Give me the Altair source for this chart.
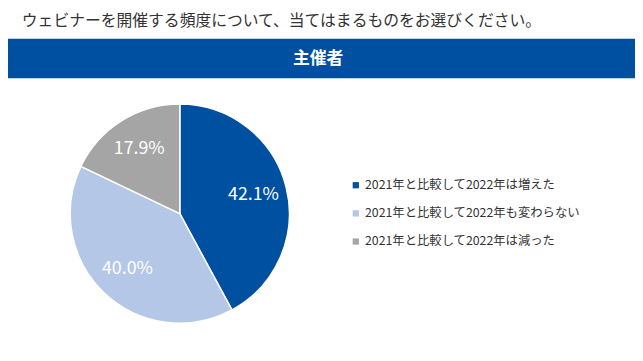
import altair as alt
import pandas as pd

categories = ["2021年と比較して2022年は増えた", "2021年と比較して2022年も変わらない", "2021年と比較して2022年は減った"]
values = [42.1, 40.0, 17.9]
colors = ["#0050A2", "#B4C7E7", "#A5A5A5"]
title_text = "ウェビナーを開催する頻度について、当てはまるものをお選びください。"
banner_text = "主催者"

df = pd.DataFrame({
    "cat": categories,
    "val": values,
    "order": [0, 1, 2],
    "label": [f"{v:.1f}%" for v in values],
})

FONT = "Noto Sans CJK JP"
W, H = 635, 353
cx, cy = 174, 206

base = alt.Chart(df)

pie = base.mark_arc(outerRadius=111, stroke="white", strokeWidth=1.5).encode(
    theta=alt.Theta("val:Q", stack=True),
    order=alt.Order("order:Q"),
    color=alt.Color(
        "cat:N",
        scale=alt.Scale(domain=categories, range=colors),
        sort=categories,
        legend=alt.Legend(
            title=None, orient="none", legendX=346, legendY=171,
            symbolType="square", symbolSize=40, symbolStrokeWidth=0,
            labelFont=FONT, labelFontSize=12.5, labelColor="#333333",
            rowPadding=15.5, labelOffset=3, labelLimit=400,
        ),
    ),
    x=alt.value(cx), y=alt.value(cy),
)

labels = base.mark_text(radius=77, font=FONT, fontSize=18, color="white", fontWeight=400).encode(
    theta=alt.Theta("val:Q", stack=True),
    order=alt.Order("order:Q"),
    text="label:N",
    x=alt.value(cx), y=alt.value(cy),
)

banner_df = pd.DataFrame({"t": [banner_text]})
banner = alt.Chart(banner_df).mark_rect(color="#0050A2").encode(
    x=alt.value(-8), x2=alt.value(W + 8), y=alt.value(29), y2=alt.value(69)
)
banner_t = alt.Chart(banner_df).mark_text(
    font=FONT, fontSize=17, fontWeight="bold", color="white", baseline="middle", align="center"
).encode(text="t:N", x=alt.value(314), y=alt.value(49))

title_df = pd.DataFrame({"t": [title_text]})
title = alt.Chart(title_df).mark_text(
    font=FONT, fontSize=16, color="#333333", baseline="middle", align="left"
).encode(text="t:N", x=alt.value(14), y=alt.value(11))

chart = alt.layer(banner, banner_t, title, pie, labels).properties(
    width=W, height=H, padding=0, autosize=alt.AutoSizeParams(type="none")
).configure(background="white").configure_view(stroke=None)

chart.save("out.html", embed_options={"renderer": "svg", "actions": False})
